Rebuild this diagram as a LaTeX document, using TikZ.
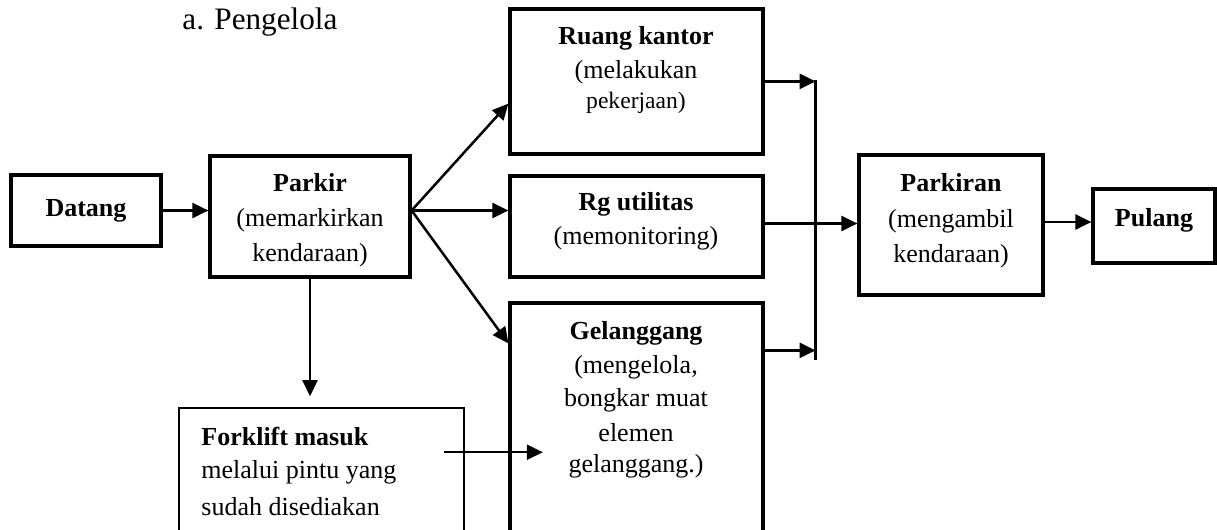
\documentclass[tikz,border=0pt]{standalone}
\usepackage{fontspec}
\setmainfont{Liberation Serif}
\usetikzlibrary{arrows.meta,fit,calc}
\begin{document}
\begin{tikzpicture}[x=0.5pt,y=-0.5pt,
  box/.style={draw,line width=1.6pt,inner sep=0pt,fit={#1}},
  thinbox/.style={draw,line width=0.8pt,inner sep=0pt,fit={#1}},
  arr/.style={line width=1.25pt,-{Triangle[length=8pt,width=7.5pt]}},
  txt/.style={inner sep=0pt,font=\fontsize{13}{16}\selectfont},
  btxt/.style={inner sep=0pt,font=\fontsize{13}{16}\selectfont\bfseries},
  stxt/.style={inner sep=0pt,font=\fontsize{11.8}{14}\selectfont}]
\clip (0,0) rectangle (1217,530);
% boxes
\node[box={(11,175) (161,246)}] (datang) {};
\node[box={(210,156) (410,277)}] (parkir) {};
\node[box={(510,9) (763,154)}] (rk) {};
\node[box={(510,176) (763,277)}] (rg) {};
\node[box={(510,303) (763,560)}] (gel) {};
\node[thinbox={(179,408) (464,560)}] (fork) {};
\node[box={(859,155) (1043,295)}] (parkiran) {};
\node[box={(1093,189) (1215,263)}] (pulang) {};
% texts
\node[inner sep=0pt,anchor=base west,font=\fontsize{15.6}{18}\selectfont] (title) at (182,29) {a. Pengelola};
\node[btxt] (datang-t) at (datang) {Datang};
\node[btxt] (parkir-t1) at (310,183) {Parkir};
\node[txt] (parkir-t2) at (310,220) {(memarkirkan};
\node[txt] (parkir-t3) at (310,255) {kendaraan)};
\node[btxt] (rk-t1) at (636,38) {Ruang kantor};
\node[txt] (rk-t2) at (636,72) {(melakukan};
\node[stxt] (rk-t3) at (636,103) {pekerjaan)};
\node[btxt] (rg-t1) at (636,204) {Rg utilitas};
\node[txt] (rg-t2) at (636,238) {(memonitoring)};
\node[btxt] (gel-t1) at (636,333) {Gelanggang};
\node[txt] (gel-t2) at (636,367) {(mengelola,};
\node[txt] (gel-t3) at (636,400) {bongkar muat};
\node[txt] (gel-t4) at (636,433) {elemen};
\node[txt] (gel-t5) at (636,466) {gelanggang.)};
\node[btxt,anchor=west] (fork-t1) at (201,437) {Forklift masuk};
\node[txt,anchor=west] (fork-t2) at (201,472) {melalui pintu yang};
\node[txt,anchor=west] (fork-t3) at (201,507) {sudah disediakan};
\node[btxt] (parkiran-t1) at (951,183) {Parkiran};
\node[txt] (parkiran-t2) at (951,221) {(mengambil};
\node[txt] (parkiran-t3) at (951,256) {kendaraan)};
\node[btxt] (pulang-t) at (1154,220) {Pulang};
% coordinates
\coordinate (fan) at ($(parkir.east)+(0,-6)$);
\coordinate (rkin) at ($(rk.south west)+(0,-52)$);
\coordinate (gelin) at ($(gel.north west)+(0,42)$);
\coordinate (bartop) at ($(rk.north east)+(51,73)$);
\coordinate (barbot) at ($(gel.north east)+(51,59)$);
\coordinate (rkout) at ($(rk.north east)+(0,74)$);
\coordinate (gelout) at ($(gel.north east)+(0,49)$);
\coordinate (forkout) at ($(fork.north east)+(-21,45)$);
\coordinate (forkdown) at ($(fork.north)+(17,-11)$);
% connectors
\draw[arr] (datang.east |- fan) -- (parkir.west |- fan);
\draw[arr] (fan) -- (rkin);
\draw[arr] (fan) -- (rg.west |- fan);
\draw[arr] (fan) -- (gelin);
\draw[arr] (parkir.south) -- (parkir.south |- forkdown);
\draw[arr] (forkout) -- ++(99,0);
\draw[line width=1.25pt] (bartop) -- (barbot);
\draw[arr] (rkout) -- (rkout -| bartop);
\draw[arr] (gelout) -- (gelout -| bartop);
\draw[arr] ($(rg.east)+(0,-3)$) -- ($(rg.east -| parkiran.west)+(0,-3)$);
\draw[arr] ($(parkiran.east)+(0,-3)$) -- ($(parkiran.east -| pulang.west)+(0,-3)$);
\end{tikzpicture}
\end{document}
